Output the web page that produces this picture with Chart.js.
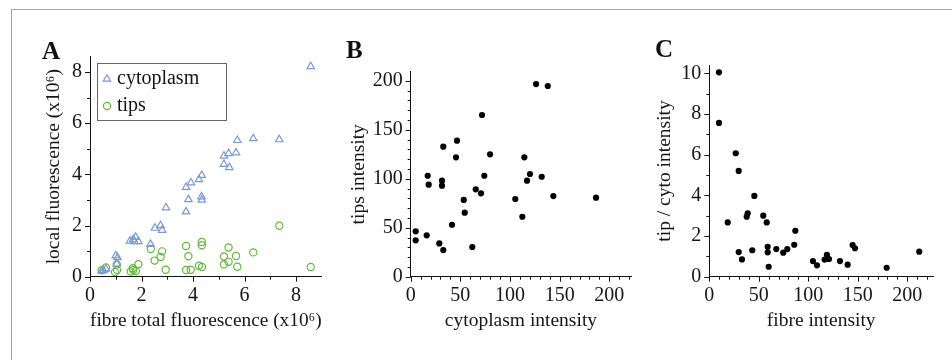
<!DOCTYPE html>
<html>
<head>
<meta charset="utf-8">
<script src="https://cdn.jsdelivr.net/npm/chart.js@4/dist/chart.umd.min.js"></script>
<style>
  html, body { margin:0; padding:0; background:#fff; }
  #wrap { position:relative; width:952px; height:360px; overflow:hidden; background:#fff; }
  canvas { position:absolute; left:0; top:0; }
  .frame { position:absolute; left:11px; top:9px; width:1000px; height:400px; border-top:1px solid #a8a8a8; border-left:1px solid #a0a0a0; }
  .lbl { position:absolute; font-family:'Liberation Serif','Times New Roman',serif; font-weight:bold; font-size:25px; line-height:1; color:#111; }
</style>
</head>
<body>
<div id="wrap">
  <div class="frame"></div>
  <canvas id="cA" width="952" height="360"></canvas>
  <canvas id="cB" width="952" height="360"></canvas>
  <canvas id="cC" width="952" height="360"></canvas>
  <div class="lbl" style="left:42px;top:38px;">A</div>
  <div class="lbl" style="left:346px;top:37px;">B</div>
  <div class="lbl" style="left:655px;top:36px;">C</div>
</div>
<script>
// ---------- DATA ----------
// Panel A: fibre total fluorescence (x10^6) vs local fluorescence (x10^6)
const aCytoX = [0.45,0.52,0.62,1.00,1.07,1.04,1.55,1.68,1.77,1.88,1.72,2.35,2.52,2.74,2.80,2.95,3.73,3.82,3.73,3.92,4.23,4.34,4.33,4.34,5.20,5.20,5.38,5.41,5.67,5.72,6.34,7.35,8.57];
const aCytoY = [0.22,0.25,0.30,0.82,0.75,0.50,1.40,1.46,1.55,1.38,1.38,1.27,1.90,2.00,1.82,2.70,2.54,3.02,3.50,3.67,3.80,3.97,3.13,3.00,4.40,4.72,4.82,4.27,4.85,5.33,5.40,5.36,8.22];
const aTipsX = [0.45,0.62,0.97,1.05,1.04,1.58,1.68,1.78,1.66,1.88,2.36,2.51,2.74,2.80,2.94,3.73,3.82,3.73,3.91,4.34,4.34,4.23,4.35,5.20,5.20,5.38,5.38,5.67,5.72,6.34,7.35,8.57];
const aTipsY = [0.25,0.36,0.18,0.26,0.48,0.20,0.26,0.22,0.33,0.49,1.08,0.63,0.77,0.99,0.27,1.20,0.80,0.26,0.27,1.36,1.23,0.43,0.38,0.79,0.48,1.14,0.58,0.81,0.39,0.95,1.99,0.38];
const aSeriesNames = ['cytoplasm','tips'];
const aXTicks = [0,2,4,6,8];
const aYTicks = [0,2,4,6,8];

// Panel B: cytoplasm intensity vs tips intensity
const bCyto = [5.0,5.0,16.1,17.1,18.1,28.8,32.8,31.5,31.5,32.8,41.6,45.6,46.6,53.4,54.4,62.0,65.5,70.8,71.8,74.1,79.9,105.3,112.4,114.4,117.1,120.1,126.2,131.9,138.0,143.6,186.6];
const bTips = [46.3,37.1,42.2,103,93.9,34,27.2,98,92.9,132.7,53,121.8,138.8,78.3,65.3,30.3,89.2,85.1,165,103,124.9,79.3,61.2,121.8,98,104.8,196.6,102,194.6,82.3,80.6];
const bXTicks = [0,50,100,150,200];
const bYTicks = [0,50,100,150,200];

// Panel C: fibre intensity vs tip / cyto intensity
const cFibre = [9.8,9.8,26.7,29.7,18.6,45.5,38.8,37.8,54.5,58,86.9,29.7,33,43.4,59,59,60,67.7,74.7,78.8,85.8,104.7,108.8,116.5,118.8,120.9,132,139.8,144.8,147.2,179.2,212.1];
const cRatio = [10.05,7.56,6.07,5.2,2.67,3.97,3.12,2.95,3.0,2.67,2.26,1.21,0.85,1.3,1.47,1.2,0.49,1.36,1.18,1.36,1.57,0.77,0.56,0.84,1.07,0.87,0.77,0.59,1.56,1.4,0.44,1.23];
const cXTicks = [0,50,100,150,200];
const cYTicks = [0,2,4,6,8,10];

// ---------- STYLE ----------
const SERIF = "'Liberation Serif','Times New Roman',serif";
const INK = '#151515';
const TICK_FONT = 20, TITLE_FONT = 19.5, LH = 1.2;
const W = 952, H = 360;
Chart.defaults.font.family = SERIF;
Chart.defaults.color = INK;

const zip = (xs, ys) => xs.map((x, i) => ({x, y: ys[i]}));

// minor/major tick marks drawn through the scales
const tickMarks = {
  id: 'tickMarks',
  afterDraw(chart, args, o) {
    if (!o || !o.x) return;
    const ctx = chart.ctx;
    ctx.save();
    ctx.strokeStyle = INK; ctx.lineWidth = 1;
    ['x','y'].forEach(id => {
      const s = chart.scales[id], t = o[id];
      const n = Math.round(t.last / t.minor);
      for (let k = 0; k <= n; k++) {
        const v = k * t.minor;
        const major = Math.abs(v / t.major - Math.round(v / t.major)) < 1e-6;
        const len = major ? 5 : 3;
        const p = Math.round(s.getPixelForValue(v)) + 0.5;
        ctx.beginPath();
        if (id === 'x') { ctx.moveTo(p, s.top); ctx.lineTo(p, s.top + len); }
        else { ctx.moveTo(s.right, p); ctx.lineTo(s.right - len, p); }
        ctx.stroke();
      }
    });
    ctx.restore();
  }
};

// legend box inside the plot area
const insetLegend = {
  id: 'insetLegend',
  afterDraw(chart, args, o) {
    if (!o || !o.show) return;
    const ctx = chart.ctx;
    ctx.save();
    ctx.strokeStyle = '#666'; ctx.lineWidth = 1;
    ctx.strokeRect(o.x + 0.5, o.y + 0.5, o.w, o.h);
    chart.data.datasets.forEach((ds, i) => {
      const cx = o.x + 10, cy = o.y + o.rows[i];
      ctx.strokeStyle = ds.borderColor; ctx.lineWidth = ds.borderWidth;
      ctx.beginPath();
      const r = ds.pointRadius;
      if (ds.pointStyle === 'triangle') {
        for (let j = 0; j < 3; j++) {
          const a = -Math.PI / 2 + j * 2 * Math.PI / 3;
          const px = cx + r * Math.cos(a), py = cy + r * Math.sin(a);
          j ? ctx.lineTo(px, py) : ctx.moveTo(px, py);
        }
        ctx.closePath();
      } else {
        ctx.arc(cx, cy, r, 0, Math.PI * 2);
      }
      ctx.stroke();
      ctx.fillStyle = INK;
      ctx.font = TICK_FONT + 'px ' + SERIF;
      ctx.textBaseline = 'middle'; ctx.textAlign = 'left';
      ctx.fillText(ds.label, o.x + 20, cy);
    });
    ctx.restore();
  }
};

function panel(id, datasets, g) {
  // g: left,right,top,bottom (px of plot area), titleCx (y-title centre x), titleCy (x-title centre y)
  const padL = g.titleCx - TITLE_FONT * LH / 2;
  const xBoxBottom = g.titleCy + TITLE_FONT * LH / 2;
  const yW = g.left - padL;
  const xH = xBoxBottom - g.bottom;
  return new Chart(document.getElementById(id), {
    type: 'scatter',
    data: { datasets },
    options: {
      responsive: false, animation: false, events: [],
      layout: { padding: { left: padL, right: W - g.right, top: g.top, bottom: H - xBoxBottom } },
      plugins: {
        legend: { display: false }, tooltip: { enabled: false },
        tickMarks: g.marks,
        insetLegend: g.legend || { show: false }
      },
      scales: {
        x: {
          type: 'linear', position: 'bottom', min: 0, max: g.xMax,
          grid: { display: false, drawTicks: false, tickLength: 0 },
          border: { display: true, color: INK, width: 1 },
          afterBuildTicks: s => { s.ticks = g.xTicks.map(v => ({value: v})); },
          afterFit: s => { s.height = xH; },
          ticks: { padding: 7, font: { size: TICK_FONT }, color: INK, maxRotation: 0, autoSkip: false },
          title: { display: true, text: g.xTitle, font: { size: TITLE_FONT }, color: INK, padding: 0 }
        },
        y: {
          type: 'linear', position: 'left', min: 0, max: g.yMax,
          grid: { display: false, drawTicks: false, tickLength: 0 },
          border: { display: true, color: INK, width: 1 },
          afterBuildTicks: s => { s.ticks = g.yTicks.map(v => ({value: v})); },
          afterFit: s => { s.width = yW; },
          ticks: { padding: 8, font: { size: TICK_FONT }, color: INK, autoSkip: false },
          title: { display: true, text: g.yTitle, font: { size: TITLE_FONT }, color: INK, padding: 0 }
        }
      }
    },
    plugins: [tickMarks, insetLegend]
  });
}

const BLUE = 'rgb(122,154,212)', GREEN = 'rgb(98,184,58)';

panel('cA', [
  { label: aSeriesNames[0], data: zip(aCytoX, aCytoY), pointStyle: 'triangle', pointRadius: 4.3,
    borderColor: BLUE, backgroundColor: 'rgba(0,0,0,0)', borderWidth: 1.2 },
  { label: aSeriesNames[1], data: zip(aTipsX, aTipsY), pointStyle: 'circle', pointRadius: 3.6,
    borderColor: GREEN, backgroundColor: 'rgba(0,0,0,0)', borderWidth: 1.2 }
], {
  left: 90, right: 321.8, top: 56.7, bottom: 276.7, xMax: 9, yMax: 8.6,
  titleCx: 54, titleCy: 321,
  xTicks: aXTicks, yTicks: aYTicks,
  xTitle: 'fibre total fluorescence (x10\u2076)', yTitle: 'local fluorescence (x10\u2076)',
  marks: { x: { major: 2, minor: 1, last: 8 }, y: { major: 2, minor: 1, last: 8 } },
  legend: { show: true, x: 97, y: 63, w: 129, h: 57, rows: [16, 43] }
});

panel('cB', [
  { label: 'cells', data: zip(bCyto, bTips), pointStyle: 'circle', pointRadius: 3.1,
    borderColor: '#000', backgroundColor: '#000', borderWidth: 0 }
], {
  left: 410.7, right: 631.2, top: 71.9, bottom: 276.7, xMax: 222, yMax: 209,
  titleCx: 358.5, titleCy: 321,
  xTicks: bXTicks, yTicks: bYTicks,
  xTitle: 'cytoplasm intensity', yTitle: 'tips intensity',
  marks: { x: { major: 50, minor: 10, last: 220 }, y: { major: 50, minor: 10, last: 200 } }
});

panel('cC', [
  { label: 'cells', data: zip(cFibre, cRatio), pointStyle: 'circle', pointRadius: 3.1,
    borderColor: '#000', backgroundColor: '#000', borderWidth: 0 }
], {
  left: 709.3, right: 933, top: 65.2, bottom: 276.7, xMax: 226, yMax: 10.4,
  titleCx: 665, titleCy: 321,
  xTicks: cXTicks, yTicks: cYTicks,
  xTitle: 'fibre intensity', yTitle: 'tip / cyto intensity',
  marks: { x: { major: 50, minor: 10, last: 220 }, y: { major: 2, minor: 1, last: 10 } }
});
</script>
</body>
</html>
